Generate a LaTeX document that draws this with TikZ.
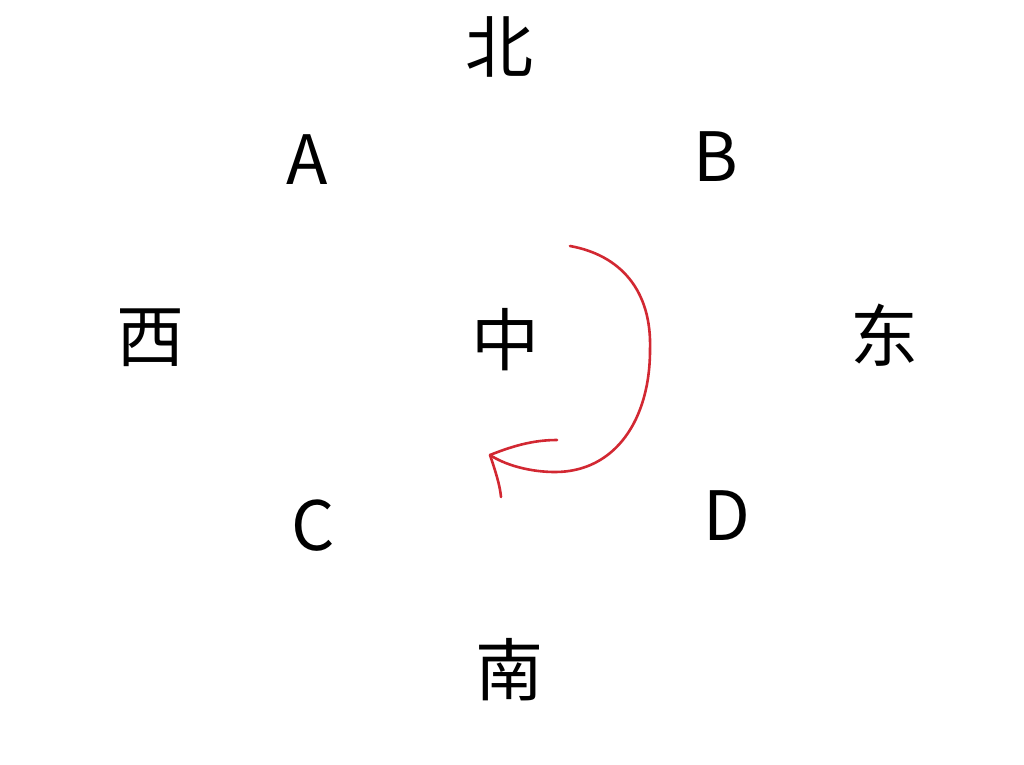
\documentclass[tikz,border=0pt]{standalone}
\usepackage{fontspec}
\setmainfont{Noto Sans CJK SC}
\begin{document}
\begin{tikzpicture}[x=1pt,y=-1pt,
  lbl/.style={font=\fontsize{68}{74}\selectfont, inner sep=0pt},
  redline/.style={draw={rgb,255:red,210;green,40;blue,50}, line width=2.6pt, line cap=round, line join=round}]
\useasboundingbox (0,0) rectangle (1024,764);
\node[lbl] (N) at (499,47) {北};
\node[lbl] (A) at (307,160) {A};
\node[lbl] (B) at (716,157) {B};
\node[lbl] (W) at (150,338) {西};
\node[lbl] (M) at (505,340) {中};
\node[lbl] (E) at (884,335) {东};
\node[lbl] (C) at (313,526) {C};
\node[lbl] (D) at (727,516) {D};
\node[lbl] (S) at (509,670) {南};
\coordinate (r0) at (570,246);
\coordinate (tip) at (490,455);
\coordinate (h1) at (557,440);
\coordinate (h2) at (501,497);
\draw[redline] (r0) .. controls (620,255) and (652,290) .. (650,350)
  .. controls (650,420) and (615,472) .. (555,472)
  .. controls (530,472) and (505,465) .. (tip);
\draw[redline] (tip) .. controls (515,445) and (535,440) .. (h1);
\draw[redline] (tip) .. controls (495,470) and (500,485) .. (h2);
\end{tikzpicture}
\end{document}
